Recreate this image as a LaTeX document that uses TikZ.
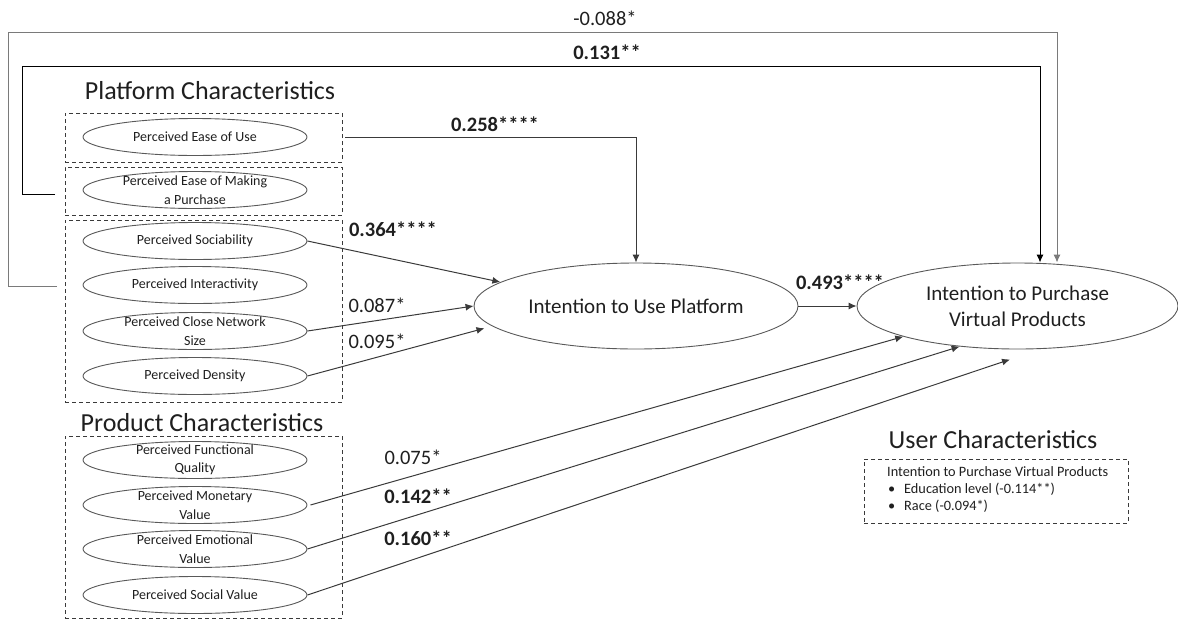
\documentclass[tikz,border=0pt]{standalone}
\usepackage{fontspec}
\setmainfont{Carlito}
\usetikzlibrary{shapes.geometric,arrows.meta}
\definecolor{ink}{HTML}{1F1F1F}
\definecolor{rim}{HTML}{595959}
\definecolor{wire}{HTML}{3A3A3A}
\definecolor{pale}{HTML}{7A7A7A}
\begin{document}
\begin{tikzpicture}[x=1pt,y=-1pt,
  var/.style={ellipse, draw=rim, line width=0.9pt, minimum width=224pt, minimum height=37pt,
    inner sep=0pt, text=ink, font=\fontsize{14}{18.5}\selectfont},
  vt/.style={align=center, inner sep=0pt, text=ink, font=\fontsize{14}{18.5}\selectfont},
  big/.style={ellipse, draw=rim, line width=0.9pt, inner sep=0pt, align=center, text=ink,
    font=\fontsize{21}{26}\selectfont},
  grp/.style={draw=wire, line width=0.9pt, dash pattern=on 4pt off 3pt, inner sep=0pt},
  ttl/.style={text=ink, inner sep=0pt, font=\fontsize{26}{30}\selectfont},
  coef/.style={text=ink, inner sep=0pt, font=\fontsize{20.5}{24}\selectfont},
  bcoef/.style={coef, font=\fontsize{20.5}{24}\selectfont\bfseries},
  utxt/.style={text=ink, inner sep=0pt, anchor=base west, font=\fontsize{14.3}{17}\selectfont},
  wirepath/.style={draw=wire, line width=1pt},
  arr/.style={wirepath, -{Latex[length=8pt,width=7pt]}},
]
\useasboundingbox (0,0) rectangle (1178,619);

% group titles
\node[ttl] (tplat) at (210,91) {Platform Characteristics};
\node[ttl] (tprod) at (202,423) {Product Characteristics};
\node[ttl] (tuser) at (993,440) {User Characteristics};

% dashed group boxes
\node[grp, minimum width=277pt, minimum height=49pt] (b1) at (203.5,137.5) {};
\node[grp, minimum width=277pt, minimum height=48pt] (b2) at (203.5,191) {};
\node[grp, minimum width=277pt, minimum height=182pt] (b3) at (203.5,311) {};
\node[grp, minimum width=277pt, minimum height=182pt] (b4) at (203.5,527) {};
\node[grp, minimum width=264pt, minimum height=64pt] (b5) at (996,491) {};

% platform constructs
\node[var] (peou) at (195,137) {Perceived Ease of Use};
\node[var, label={[vt]center:{Perceived Ease of Making\\a Purchase}}] (peomp) at (195,190) {};
\node[var] (soc) at (195,241) {Perceived Sociability};
\node[var] (inter) at (195,285) {Perceived Interactivity};
\node[var, label={[vt]center:{Perceived Close Network\\Size}}] (cns) at (195,331) {};
\node[var] (den) at (195,376) {Perceived Density};

% product constructs
\node[var, label={[vt]center:{Perceived Functional\\Quality}}] (fq) at (195,460) {};
\node[var, label={[vt]center:{Perceived Monetary\\Value}}] (mon) at (195,505) {};
\node[var, label={[vt]center:{Perceived Emotional\\Value}}] (emo) at (195,549) {};
\node[var] (sv) at (195,595) {Perceived Social Value};

% outcome constructs
\node[big, minimum width=324pt, minimum height=86pt] (iu) at (636,306) {Intention to Use Platform};
\node[big, minimum width=321pt, minimum height=86pt] (pur) at (1017.5,306) {Intention to Purchase\\Virtual Products};

% user characteristics list
\node[utxt] (u1) at (887,476) {Intention to Purchase Virtual Products};
\node[utxt] (u2) at (888,493) {\makebox[16pt][l]{•}Education level (-0.114**)};
\node[utxt] (u3) at (888,510) {\makebox[16pt][l]{•}Race (-0.094*)};

% loose ends of the two long paths
\coordinate (s088) at (57,286);
\coordinate (s131) at (55,194);

% paths
\draw[arr, draw=pale] (s088) -| (8,32) -| ([xshift=39.5pt]pur.north);
\draw[arr, draw=black] (s131) -| (22,66) -| ([xshift=22.5pt]pur.north);
\draw[arr] ([xshift=3pt]b1.east) -| (iu.north);
\draw[arr] (soc.east) -- (iu.170);
\draw[arr] (cns.east) -- (iu.west);
\draw[arr, shorten >=8pt] (den.east) -- (iu.188);
\draw[arr] (iu.east) -- (pur.west);
\draw[arr] ([xshift=3pt]mon.east) -- (pur.195);
\draw[arr] (emo.east) -- (pur.215);
\draw[arr, shorten >=33pt] (sv.east) -- (pur.299);

% coefficients
\node[coef] (l088) at (605,18) {-0.088*};
\node[bcoef] (l131) at (607,52) {0.131**};
\node[bcoef] (l258) at (495,124) {0.258****};
\node[bcoef] (l364) at (393,229) {0.364****};
\node[coef] (l087) at (377,305) {0.087*};
\node[coef] (l095) at (377,341) {0.095*};
\node[bcoef] (l493) at (840,282) {0.493****};
\node[coef] (l075) at (413,457) {0.075*};
\node[bcoef] (l142) at (418,496) {0.142**};
\node[bcoef] (l160) at (418,538) {0.160**};
\end{tikzpicture}
\end{document}
